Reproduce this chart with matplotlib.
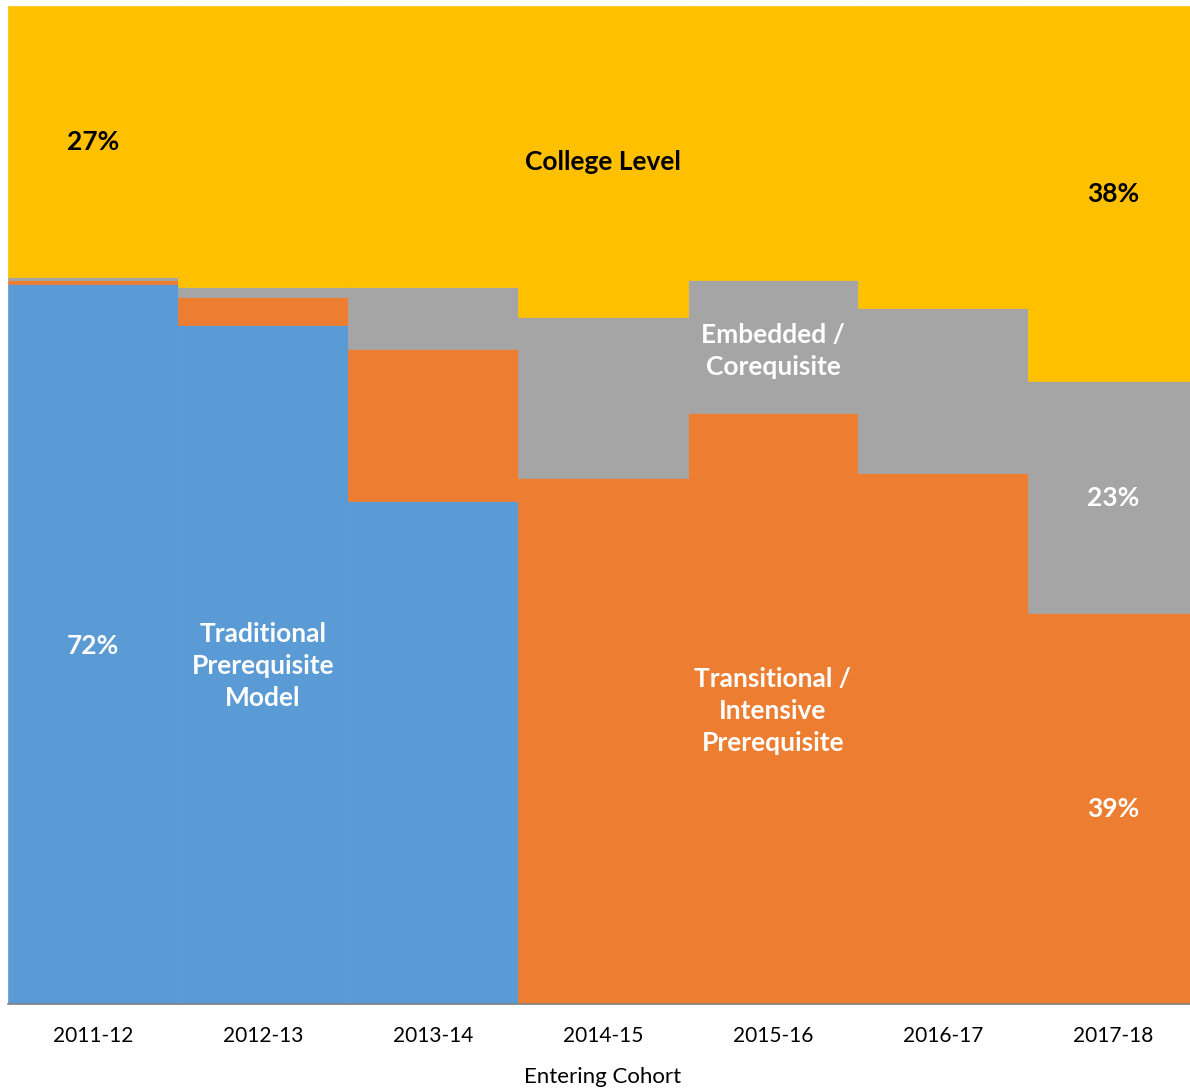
import numpy as np
import matplotlib
matplotlib.use("Agg")
import matplotlib.pyplot as plt

plt.rcParams["font.family"] = ["Lato", "DejaVu Sans"]

# ── data (percent of entering cohort) ──
cohorts = ["2011-12", "2012-13", "2013-14", "2014-15", "2015-16", "2016-17", "2017-18"]
traditional  = [72.1, 68.0, 50.4, 0.0, 0.0, 0.0, 0.0]
transitional = [0.4, 2.8, 15.2, 52.7, 59.2, 53.2, 39.2]
embedded     = [0.3, 1.0, 6.2, 16.1, 13.3, 16.5, 23.2]
college      = [27.2, 28.2, 28.2, 31.2, 27.5, 30.3, 37.6]

series = [
    ("Traditional Prerequisite Model", traditional, "#5B9BD5"),
    ("Transitional / Intensive Prerequisite", transitional, "#ED7D31"),
    ("Embedded / Corequisite", embedded, "#A5A5A5"),
    ("College Level", college, "#FFC000"),
]

fig = plt.figure(figsize=(11.9, 10.88), dpi=100)
# last column runs slightly past the right edge of the picture
ax = fig.add_axes([8 / 1190, 84 / 1088, 1190 / 1190, 998 / 1088])

x = np.arange(len(cohorts))
bottom = np.zeros(len(cohorts))
for name, vals, col in series:
    vals = np.array(vals)
    ax.bar(x, vals, width=1.0, bottom=bottom, color=col,
           edgecolor=col, linewidth=0.5, label=name)
    bottom += vals

ax.set_xlim(-0.5, len(cohorts) - 0.5)
ax.set_ylim(0, 100)
ax.set_yticks([])
ax.set_xticks(x)
ax.set_xticklabels(cohorts, fontsize=15)
ax.tick_params(axis="x", length=0, pad=16)
for s in ("top", "right", "left"):
    ax.spines[s].set_visible(False)
ax.spines["bottom"].set_color("#7F7F7F")
ax.spines["bottom"].set_linewidth(1.2)
ax.set_xlabel("Entering Cohort", fontsize=16, labelpad=15)

# ── in-chart labels ──
bold = dict(fontsize=19, fontweight="bold", ha="center", va="center", linespacing=1.4)
ax.text(0, 86.4, f"{college[0]:.0f}%", color="black", **bold)
ax.text(3, 84.4, "College Level", color="black", **bold)
ax.text(6, 81.2, f"{college[6]:.0f}%", color="black", **bold)
ax.text(4, 65.4, "Embedded /\nCorequisite", color="white", **bold)
ax.text(6, 50.7, f"{embedded[6]:.0f}%", color="white", **bold)
ax.text(0, 35.9, f"{traditional[0]:.0f}%", color="white", **bold)
ax.text(1, 33.9, "Traditional\nPrerequisite\nModel", color="white", **bold)
ax.text(4, 29.4, "Transitional /\nIntensive\nPrerequisite", color="white", **bold)
ax.text(6, 19.5, f"{transitional[6]:.0f}%", color="white", **bold)

fig.savefig("out.png", dpi=100)
